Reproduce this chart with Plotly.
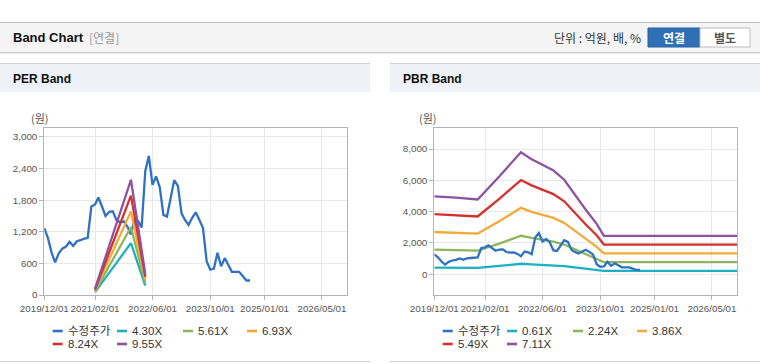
import plotly.graph_objects as go

# ---------------- data ----------------
price_dates = [
    "2019-12-01", "2020-01-01", "2020-02-01", "2020-03-01", "2020-04-01", "2020-05-01",
    "2020-06-01", "2020-07-01", "2020-08-01", "2020-09-01", "2020-10-01", "2020-11-01",
    "2020-12-01", "2021-01-01", "2021-02-01", "2021-03-01", "2021-04-01", "2021-05-01",
    "2021-06-01", "2021-07-01", "2021-08-01", "2021-09-01", "2021-10-01", "2021-11-01",
    "2021-12-01", "2022-01-01", "2022-02-01", "2022-03-01", "2022-04-01", "2022-05-01",
    "2022-06-01", "2022-07-01", "2022-08-01", "2022-09-01", "2022-10-01", "2022-11-01",
    "2022-12-01", "2023-01-01", "2023-02-01", "2023-03-01", "2023-04-01", "2023-05-01",
    "2023-06-01", "2023-07-01", "2023-08-01", "2023-09-01", "2023-10-01", "2023-11-01",
    "2023-12-01", "2024-01-01", "2024-02-01", "2024-03-01", "2024-04-01", "2024-05-01",
    "2024-06-01", "2024-07-01", "2024-08-01", "2024-09-01",
]
price_values = [
    1270, 1080, 800, 620, 790, 880,
    920, 1010, 930, 1020, 1040, 1070,
    1080, 1680, 1720, 1850, 1680, 1500,
    1580, 1590, 1420, 1380, 1400, 1300,
    1150, 1450, 1400, 1280, 2350, 2640,
    2090, 2250, 2050, 1520, 1490, 1870,
    2180, 2070, 1550, 1430, 1330, 1460,
    1570, 1430, 1270, 640, 480, 500,
    800, 545, 700, 575, 440, 440,
    440, 360, 275, 275,
]

per_band_dates = ["2021-02-01", "2021-12-01", "2022-04-01"]
per_labels = ["4.30X", "5.61X", "6.93X", "8.24X", "9.55X"]
per_4_30 = [54, 985, 180]
per_5_61 = [70, 1285, 236]
per_6_93 = [87, 1587, 291]
per_8_24 = [103, 1887, 346]
per_9_55 = [119, 2187, 401]

pbr_band_dates = [
    "2019-12-01", "2020-06-01", "2020-12-01", "2021-06-01", "2021-12-01", "2022-03-01",
    "2022-06-01", "2022-09-01", "2022-12-01", "2023-03-01", "2023-06-01", "2023-09-01",
    "2023-11-01", "2026-11-28",
]
pbr_labels = ["0.61X", "2.24X", "3.86X", "5.49X", "7.11X"]
pbr_0_61 = [427, 420, 410, 535, 670, 630, 600, 570, 520, 436, 354, 276, 210, 210]
pbr_2_24 = [1570, 1540, 1510, 1960, 2460, 2320, 2200, 2090, 1900, 1600, 1300, 1010, 770, 770]
pbr_3_86 = [2700, 2660, 2600, 3380, 4240, 3990, 3800, 3600, 3280, 2760, 2240, 1750, 1330, 1330]
pbr_5_49 = [3840, 3780, 3690, 4810, 6020, 5680, 5400, 5120, 4660, 3920, 3180, 2490, 1890, 1890]
pbr_7_11 = [4970, 4900, 4780, 6250, 7800, 7350, 7000, 6630, 6040, 5080, 4120, 3220, 2450, 2450]

x_tick_dates = ["2019-12-01", "2021-02-01", "2022-06-01", "2023-10-01", "2025-01-01", "2026-05-01"]
x_tick_labels = ["2019/12/01", "2021/02/01", "2022/06/01", "2023/10/01", "2025/01/01", "2026/05/01"]
x_range = ["2019-12-01", "2026-11-28"]

price_name = "수정주가"
price_color = "#2f72c4"
band_colors = ["#1cb0c2", "#8fb55b", "#f4aa38", "#d3312c", "#8f52a1"]

W, H = 760, 364
def px(x):
    return x / W
def py(y):
    return 1 - y / H

TICK_FONT = dict(family="Liberation Sans, Arial, sans-serif", size=9.8, color="#555")
LEG_FAMILY = "Liberation Sans, Noto Sans CJK KR, sans-serif"

fig = go.Figure()

# PER panel
fig.add_trace(go.Scatter(x=price_dates, y=price_values, mode="lines", name=price_name,
                         line=dict(color=price_color, width=2.3), xaxis="x", yaxis="y"))
per_series = [per_4_30, per_5_61, per_6_93, per_8_24, per_9_55]
for i, (lab, vals) in enumerate(zip(per_labels, per_series)):
    fig.add_trace(go.Scatter(x=per_band_dates, y=vals, mode="lines", name=lab,
                             line=dict(color=band_colors[i], width=2.3), xaxis="x", yaxis="y"))

# PBR panel
pbr_series = [pbr_0_61, pbr_2_24, pbr_3_86, pbr_5_49, pbr_7_11]
for i, (lab, vals) in enumerate(zip(pbr_labels, pbr_series)):
    fig.add_trace(go.Scatter(x=pbr_band_dates, y=vals, mode="lines", name=lab,
                             line=dict(color=band_colors[i], width=2.3), xaxis="x2", yaxis="y2"))
fig.add_trace(go.Scatter(x=price_dates, y=price_values, mode="lines", name=price_name,
                         line=dict(color=price_color, width=2.3), xaxis="x2", yaxis="y2"))

axis_common = dict(showline=True, mirror=True, linecolor="#b4b4b4", linewidth=1,
                   showgrid=True, gridcolor="#e8e8e8", gridwidth=1,
                   ticks="outside", ticklen=4, tickcolor="#b4b4b4",
                   tickfont=TICK_FONT, zeroline=False, fixedrange=True, tickangle=0)

plot_top, plot_bot = 128, 295
fig.update_layout(
    width=W, height=H, autosize=False,
    margin=dict(l=0, r=0, t=0, b=0, autoexpand=False),
    paper_bgcolor="white", plot_bgcolor="white",
    showlegend=False,
    xaxis=dict(domain=[px(44.3), px(347)], type="date", range=x_range,
               tickvals=x_tick_dates, ticktext=x_tick_labels, anchor="y", **axis_common),
    yaxis=dict(domain=[py(plot_bot), py(plot_top)], range=[0, 3170], tickvals=[0, 600, 1200, 1800, 2400, 3000],
               tickformat=",d", anchor="x", **axis_common),
    xaxis2=dict(domain=[px(434.3), px(737)], type="date", range=x_range,
                tickvals=x_tick_dates, ticktext=x_tick_labels, anchor="y2", **axis_common),
    yaxis2=dict(domain=[py(plot_bot), py(plot_top)], range=[-1325, 9344], tickvals=[0, 2000, 4000, 6000, 8000],
                tickformat=",d", anchor="x2", **axis_common),
)

shapes = []
annotations = []
def rect(x0, y0, x1, y1, fill, line_color=None, lw=0, layer="below"):
    shapes.append(dict(type="rect", xref="paper", yref="paper",
                       x0=px(x0), x1=px(x1), y0=py(y1), y1=py(y0),
                       fillcolor=fill, line=dict(color=line_color or fill, width=lw), layer=layer))
def hline(x0, x1, y, color, lw=1, layer="below"):
    shapes.append(dict(type="line", xref="paper", yref="paper",
                       x0=px(x0), x1=px(x1), y0=py(y), y1=py(y),
                       line=dict(color=color, width=lw), layer=layer))
def text(t, x, y, anchor, size, color, family, bold=False):
    annotations.append(dict(text=f"<b>{t}</b>" if bold else t, x=px(x), y=py(y),
                            xanchor=anchor, yanchor="middle", xref="paper", yref="paper",
                            showarrow=False, font=dict(family=family, size=size, color=color)))

# header
rect(0, 22, 760, 52, "#f4f4f4")
hline(0, 760, 22.5, "#bdbdbd")
hline(0, 760, 52.5, "#cfcfcf")
hline(0, 760, 53.5, "#e6e6e6")
# panel title bars
rect(0, 64, 370, 92, "#eef1f6")
rect(390, 64, 760, 92, "#eef1f6")
hline(0, 370, 63.5, "#d0d0d0")
hline(390, 760, 63.5, "#d0d0d0")
hline(0, 370, 361.5, "#d0d0d0")
hline(390, 760, 361.5, "#d0d0d0")
# buttons
rect(648, 28, 700, 47, "#2f6fb6", "#2a62a0", 1)
rect(700, 28, 750, 47, "#ffffff", "#bcbcbc", 1)

KFONT = "Noto Sans CJK KR, Liberation Sans, sans-serif"
LFONT = "Liberation Sans, Noto Sans CJK KR, sans-serif"
text("Band Chart", 11, 38, "left", 13, "#111", LFONT, bold=True)
text("[연결]", 87, 38, "left", 12, "#999", KFONT)
text("단위 : 억원, 배, %", 643, 38, "right", 12, "#333", KFONT)
text("연결", 674, 37.5, "center", 12, "#ffffff", KFONT, bold=True)
text("별도", 725, 37.5, "center", 12, "#555", KFONT, bold=True)
text("PER Band", 11, 79, "left", 12, "#111", LFONT, bold=True)
text("PBR Band", 401, 79, "left", 12, "#111", LFONT, bold=True)
text("(원)", 40, 118, "center", 11, "#555", KFONT)
text("(원)", 428, 118, "center", 11, "#555", KFONT)

# legends (drawn beneath each panel, in the reference's two-row layout)
legend_slots = [(52.7, 331), (117, 331), (183, 331), (247, 331), (52.7, 344), (117, 344)]
per_legend = [(price_name, price_color)] + list(zip(per_labels, band_colors))
pbr_legend = [(price_name, price_color)] + list(zip(pbr_labels, band_colors))
for offset, items in ((0, per_legend), (390, pbr_legend)):
    for (name, color), (sx, sy) in zip(items, legend_slots):
        hline(offset + sx, offset + sx + 10, sy, color, lw=2.6, layer="above")
        text(name, offset + sx + 13, sy, "left", 11.5, "#333", LEG_FAMILY)

fig.update_layout(shapes=shapes, annotations=annotations)

fig.write_html("out.html",
               config={"displayModeBar": False, "staticPlot": True},
               post_script="document.body.style.margin='0';document.body.style.padding='0';"
                           "document.documentElement.style.overflow='hidden';")
